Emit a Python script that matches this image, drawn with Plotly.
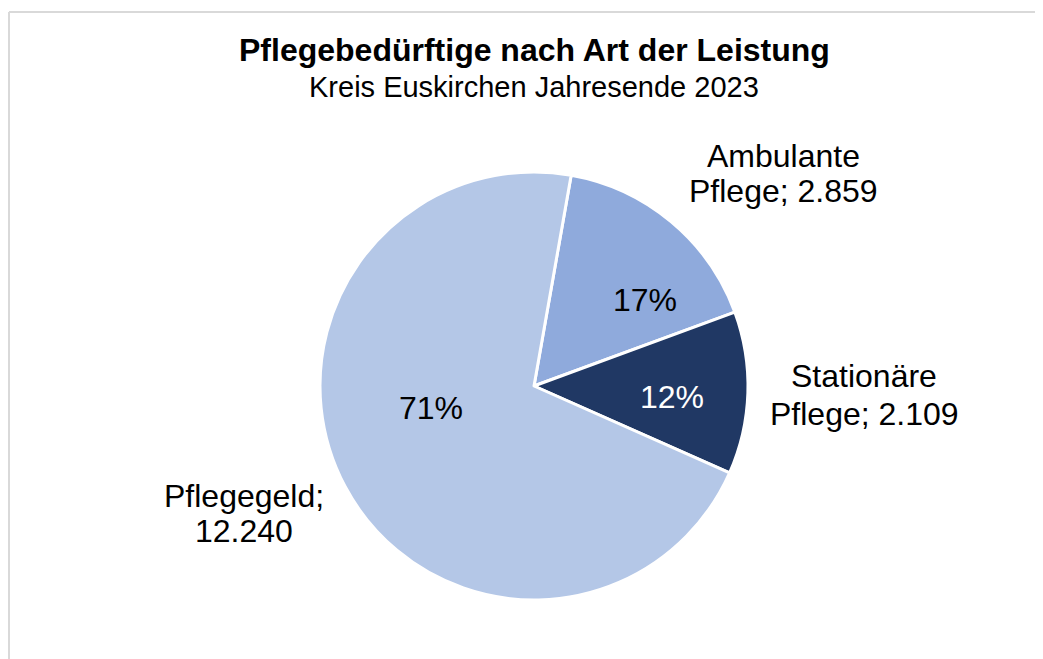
import plotly.graph_objects as go

categories = ["Ambulante Pflege", "Stationäre Pflege", "Pflegegeld"]
values = [2859, 2109, 12240]
colors = ["#8FAADC", "#203864", "#B4C7E7"]
pct_colors = ["#000000", "#FFFFFF", "#000000"]

title = "Pflegebedürftige nach Art der Leistung"
subtitle = "Kreis Euskirchen Jahresende 2023"

# page has an 8px body margin; figure fills the rest of the 1043x659 window
OFF = 8
W, H = 1043 - OFF, 659 - OFF
FONT = "Liberation Sans, Arial, sans-serif"

# layout positions (screen pixels) for labels
pct_pos = [(645, 300), (672, 397), (431, 408)]
lbl_pos = [(783, 156, 191), (864, 376, 414), (244, 496, 531)]

total = sum(values)

def fmt(v):
    return f"{v:,}".replace(",", ".")

def px(x, y):
    return (x - OFF) / W, 1 - (y - OFF) / H

cx, cy, r = 534, 386, 214
x0, y0 = px(cx - r, cy + r)
x1, y1 = px(cx + r, cy - r)
fig = go.Figure(go.Pie(
    labels=categories, values=values, sort=False, direction="clockwise",
    rotation=10, textinfo="none", hoverinfo="label+value+percent",
    marker=dict(colors=colors, line=dict(color="#FFFFFF", width=3)),
    domain=dict(x=[x0, x1], y=[y0, y1]),
    showlegend=False,
))

ann = []
tx, ty = px(534, 50)
ann.append(dict(text=f"<b>{title}</b>", x=tx, y=ty, font=dict(size=32, color="#000000")))
tx, ty = px(534, 87)
ann.append(dict(text=subtitle, x=tx, y=ty, font=dict(size=29, color="#000000")))
for i, (c, v) in enumerate(zip(categories, values)):
    p = round(v / total * 100)
    x, y = px(*pct_pos[i])
    ann.append(dict(text=f"{p}%", x=x, y=y, font=dict(size=32, color=pct_colors[i])))
    text = f"{c}; {fmt(v)}"
    l1, l2 = text.split(" ", 1)
    lx, ly1, ly2 = lbl_pos[i]
    ax, ay = px(lx, ly1)
    ann.append(dict(text=l1, x=ax, y=ay, font=dict(size=32, color="#000000")))
    ax, ay = px(lx, ly2)
    ann.append(dict(text=l2, x=ax, y=ay, font=dict(size=32, color="#000000")))
for a in ann:
    a.update(xref="paper", yref="paper", showarrow=False, xanchor="center", yanchor="middle")

bx, by = px(9, 12)
shapes = [
    dict(type="line", xref="paper", yref="paper", x0=bx, y0=by, x1=1.05, y1=by, line=dict(color="#D9D9D9", width=2)),
    dict(type="line", xref="paper", yref="paper", x0=bx, y0=by, x1=bx, y1=-0.05, line=dict(color="#D9D9D9", width=2)),
]

fig.update_layout(
    width=W, height=H, margin=dict(l=0, r=0, t=0, b=0),
    paper_bgcolor="#FFFFFF", plot_bgcolor="#FFFFFF",
    font=dict(family=FONT, color="#000000"),
    annotations=ann, shapes=shapes,
)
fig.write_html("out.html")
